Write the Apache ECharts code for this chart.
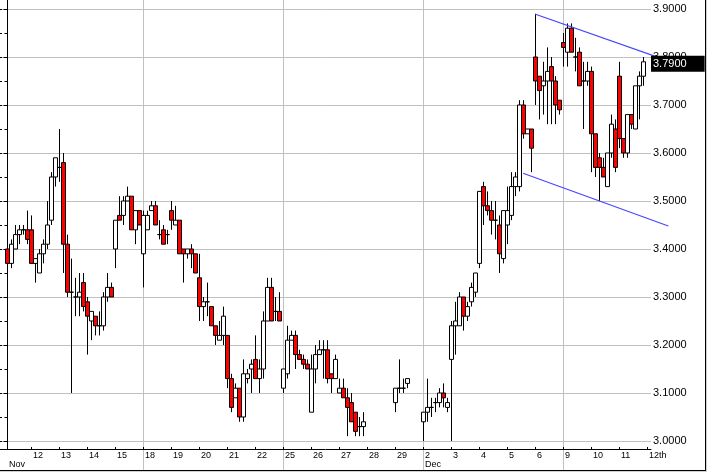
<!DOCTYPE html>
<html><head><meta charset="utf-8">
<script src="https://cdn.jsdelivr.net/npm/echarts@6/dist/echarts.min.js"></script>
<style>
html,body{margin:0;padding:0;background:#d4d0c8;}
#c{width:705px;height:470px;background:#fff;border-right:1px solid #000;border-bottom:1px solid #000;}
</style>
</head><body><div id="c"></div>
<script>
// ---- data ----
const slots = [
  0,1,2,3,4,5,6,7,8,9,10,11,12,13,14,15,16,17,18,19,20,21,22,23,24,25,26,27,28,29,
  30,31,32,33,34,35,36,37,38,39,40,41,42,43,44,45,46,47,48,49,50,51,52,53,54,55,56,57,58,59,
  60,61,62,63,64,65,66,67,68,69,70,71,72,73,74,75,76,77,78,79,80,81,82,83,84,85,86,87,88,89,
  97,98,99,100,
  104,105,106,107,108,109,110,111,112,113,114,115,116,117,118,119,
  120,121,122,123,124,125,126,127,128,129,130,131,132,133,134,135,136,137,138,139,
  140,141,142,143,144,145,146,147,148,149,150,151,152,153,154,155,156,157,158,159
];
const opens = [
  3.40,3.37,3.40,3.43,3.44,3.44,3.44,3.37,3.35,3.39,
  3.41,3.46,3.55,3.57,3.58,3.41,3.31,3.30,3.30,3.33,
  3.29,3.25,3.26,3.24,3.24,3.30,3.32,3.40,3.47,3.47,
  3.50,3.51,3.44,3.48,3.39,3.44,3.48,3.49,3.43,3.44,
  3.43,3.48,3.45,3.46,3.40,3.39,3.40,3.39,3.34,3.28,
  3.29,3.28,3.24,3.21,3.22,3.22,3.13,3.09,3.11,3.05,
  3.13,3.15,3.17,3.13,3.15,3.25,3.32,3.27,3.27,3.11,
  3.14,3.21,3.22,3.18,3.17,3.16,3.06,3.15,3.18,3.19,
  3.19,3.14,3.13,3.10,3.11,3.09,3.08,3.06,3.03,3.03,
  3.08,3.11,3.11,3.12,
  3.04,3.06,3.07,3.08,3.08,3.10,
  3.07,3.17,3.24,3.24,3.30,3.26,3.29,3.31,3.37,3.53,
  3.49,3.48,3.46,3.45,3.38,3.45,3.47,3.53,3.53,3.70,
  3.64,3.65,3.80,3.76,3.74,3.75,3.78,3.75,3.71,3.83,
  3.81,3.86,3.80,3.81,3.75,3.75,3.77,3.64,3.59,3.57,
  3.53,3.60,3.65,3.76,3.63,3.60,3.68,3.65,3.74,3.76
];
const closes = [
  3.37,3.41,3.43,3.44,3.44,3.42,3.37,3.38,3.39,3.41,
  3.45,3.55,3.59,3.57,3.41,3.31,3.31,3.30,3.31,3.28,
  3.26,3.27,3.24,3.24,3.30,3.32,3.30,3.46,3.46,3.50,
  3.51,3.44,3.48,3.45,3.47,3.47,3.49,3.45,3.43,3.41,
  3.43,3.46,3.46,3.39,3.39,3.40,3.39,3.35,3.28,3.29,
  3.29,3.24,3.22,3.22,3.26,3.13,3.07,3.11,3.05,3.14,
  3.14,3.16,3.13,3.15,3.25,3.32,3.25,3.27,3.25,3.15,
  3.21,3.22,3.18,3.17,3.16,3.15,3.15,3.18,3.19,3.19,
  3.13,3.13,3.17,3.11,3.09,3.07,3.04,3.02,3.03,3.04,
  3.11,3.11,3.11,3.13,
  3.06,3.07,3.07,3.08,3.10,3.09,
  3.08,3.24,3.25,3.30,3.26,3.28,3.32,3.35,3.52,3.49,
  3.48,3.46,3.46,3.39,3.48,3.48,3.53,3.55,3.70,3.64,
  3.65,3.61,3.75,3.73,3.75,3.77,3.75,3.70,3.69,3.82,
  3.86,3.81,3.80,3.74,3.75,3.77,3.64,3.57,3.57,3.55,
  3.60,3.66,3.57,3.63,3.60,3.68,3.66,3.74,3.76,3.79
];
const highs = [
  3.42,3.42,3.45,3.45,3.45,3.48,3.47,3.38,3.40,3.42,
  3.50,3.56,3.59,3.65,3.60,3.43,3.38,3.34,3.35,3.35,
  3.30,3.27,3.26,3.27,3.31,3.35,3.33,3.46,3.51,3.51,
  3.53,3.51,3.48,3.48,3.48,3.48,3.50,3.50,3.46,3.45,
  3.44,3.50,3.49,3.46,3.40,3.40,3.41,3.39,3.39,3.30,
  3.33,3.28,3.24,3.25,3.28,3.22,3.14,3.12,3.11,3.17,
  3.15,3.17,3.22,3.17,3.27,3.34,3.34,3.30,3.31,3.15,
  3.24,3.23,3.23,3.19,3.18,3.17,3.18,3.20,3.21,3.21,
  3.21,3.14,3.18,3.13,3.13,3.11,3.10,3.06,3.05,3.06,
  3.11,3.17,3.13,3.13,
  3.06,3.13,3.09,3.09,3.11,3.12,
  3.09,3.25,3.29,3.31,3.30,3.29,3.33,3.35,3.52,3.54,
  3.52,3.50,3.50,3.47,3.48,3.53,3.56,3.56,3.71,3.71,
  3.65,3.65,3.89,3.76,3.79,3.82,3.80,3.76,3.71,3.85,
  3.87,3.87,3.84,3.82,3.79,3.79,3.78,3.64,3.60,3.59,
  3.60,3.68,3.67,3.79,3.63,3.68,3.68,3.74,3.77,3.80
];
const lows = [
  3.34,3.36,3.40,3.41,3.43,3.41,3.37,3.33,3.35,3.37,
  3.40,3.45,3.53,3.54,3.35,3.30,3.10,3.26,3.26,3.27,
  3.18,3.21,3.22,3.22,3.23,3.29,3.30,3.36,3.46,3.45,
  3.50,3.44,3.41,3.45,3.32,3.44,3.48,3.45,3.42,3.41,
  3.41,3.44,3.45,3.39,3.33,3.38,3.36,3.35,3.25,3.25,
  3.26,3.24,3.20,3.21,3.20,3.11,3.06,3.09,3.04,3.04,
  3.12,3.10,3.13,3.10,3.13,3.25,3.25,3.25,3.25,3.10,
  3.13,3.21,3.15,3.17,3.15,3.15,3.06,3.12,3.18,3.13,
  3.12,3.10,3.13,3.10,3.09,3.01,3.04,3.01,3.01,3.01,
  3.06,3.10,3.10,3.11,
  3.00,3.04,3.05,3.06,3.07,3.07,
  3.06,3.00,3.18,3.24,3.23,3.25,3.28,3.30,3.36,3.45,
  3.47,3.43,3.42,3.35,3.37,3.41,3.46,3.51,3.52,3.63,
  3.64,3.56,3.70,3.67,3.68,3.66,3.66,3.66,3.68,3.78,
  3.78,3.81,3.77,3.74,3.65,3.74,3.56,3.55,3.50,3.55,
  3.53,3.59,3.56,3.61,3.59,3.59,3.65,3.65,3.67,3.74
];
// day tick labels (one per trading day, first at slot 6, 7 slots per day)
const dayLabels = ['12','13','14','15','18','19','20','21','22','25','26','27','28','29','2','3','4','5','6','9','10','11','12th'];
const firstDaySlot = 6, slotsPerDay = 7;
const monthLabels = ['Nov','Dec'];
const monthSlots = [0, 104];
const weekSlots = [34, 69, 104, 139];
const yTickValues = [3.0,3.1,3.2,3.3,3.4,3.5,3.6,3.7,3.8,3.9];
const yMinorValues = [3.05,3.15,3.25,3.35,3.45,3.55,3.65,3.75,3.85];
const yAllSmall = [3.0,3.05,3.1,3.15,3.2,3.25,3.3,3.35,3.4,3.45,3.5,3.55,3.6,3.65,3.7,3.75,3.8,3.85,3.9];
const lastPrice = 3.79;
// channel segments: [slotStart, valueStart, slotEnd, valueEnd]
const channelLines = [
  [132, 3.889, 165, 3.7925],
  [128.9, 3.5577, 165.2, 3.4479]
];

// ---- build ----
const candles = slots.map((s, k) => [s, opens[k], closes[k], lows[k], highs[k]]);
const daySlots = dayLabels.map((_, k) => firstDaySlot + k * slotsPerDay);
const labelMap = {};
daySlots.forEach((s, k) => { labelMap[s] = dayLabels[k]; });
monthSlots.forEach((s, k) => { labelMap[s] = (labelMap[s] || '') + '\n' + monthLabels[k]; });
const labelSlots = Object.keys(labelMap).map(Number).sort((a, b) => a - b);

const XMIN = -1.875, PX_PER_SLOT = 4, PLOT_W = 651, FULL_W = 705;
const YMIN = 2.98333, YMAX = 3.91875;
const FONT = 'Liberation Sans, Arial, sans-serif';

const chart = echarts.init(document.getElementById('c'), null, {renderer: 'canvas'});
chart.setOption({
  animation: false,
  backgroundColor: '#fff',
  grid: [
    {left: 0, top: 0, right: FULL_W - PLOT_W, bottom: 21, outerBoundsMode: 'none', containLabel: false},
    {left: 0, top: 449, right: 0, bottom: 0, outerBoundsMode: 'none', containLabel: false}
  ],
  xAxis: [
    {
      type: 'value', gridIndex: 0, position: 'bottom',
      min: XMIN, max: XMIN + PLOT_W / PX_PER_SLOT,
      axisLine: {show: true, lineStyle: {color: '#000', width: 1}},
      axisTick: {show: true, inside: true, length: 2, lineStyle: {color: '#000'}, customValues: daySlots},
      axisLabel: {
        show: true, customValues: labelSlots, hideOverlap: false,
        formatter: v => labelMap[Math.round(v)] || '',
        align: 'left', verticalAlign: 'top', margin: 2, padding: [0, 0, 0, 1.5],
        fontFamily: FONT, fontSize: 9, lineHeight: 9, color: '#000'
      },
      splitLine: {show: false}
    },
    {
      type: 'value', gridIndex: 0, position: 'bottom',
      min: XMIN, max: XMIN + PLOT_W / PX_PER_SLOT,
      axisLine: {show: false}, axisLabel: {show: false},
      axisTick: {show: false, customValues: weekSlots},
      splitLine: {show: true, lineStyle: {color: '#c0c0c0', width: 1}}
    },
    {
      type: 'value', gridIndex: 1, position: 'top',
      min: XMIN, max: XMIN + FULL_W / PX_PER_SLOT,
      axisLine: {show: true, lineStyle: {color: '#000', width: 1}},
      axisLabel: {show: false},
      axisTick: {show: false, customValues: weekSlots},
      splitLine: {show: true, lineStyle: {color: '#c0c0c0', width: 1}}
    }
  ],
  yAxis: [
    {
      type: 'value', gridIndex: 0, position: 'right', min: YMIN, max: YMAX,
      axisLine: {show: true, lineStyle: {color: '#000', width: 1}},
      axisTick: {show: true, inside: true, length: 4, lineStyle: {color: '#000'}, customValues: yTickValues},
      axisLabel: {
        show: true, customValues: yTickValues, hideOverlap: false,
        formatter: v => v.toFixed(4), margin: 2, align: 'left',
        fontFamily: FONT, fontSize: 11, color: '#000'
      },
      splitLine: {show: true, lineStyle: {color: '#c0c0c0', width: 1}}
    },
    {
      type: 'value', gridIndex: 0, position: 'right', min: YMIN, max: YMAX,
      axisLine: {show: false}, axisLabel: {show: false}, splitLine: {show: false},
      axisTick: {show: true, inside: true, length: 3, lineStyle: {color: '#000'}, customValues: yMinorValues}
    },
    {
      type: 'value', gridIndex: 0, position: 'left', min: YMIN, max: YMAX,
      axisLine: {show: false}, axisLabel: {show: false}, splitLine: {show: false},
      axisTick: {show: true, inside: true, length: 2, lineStyle: {color: '#000'}, customValues: yAllSmall}
    },
    {type: 'value', gridIndex: 1, min: 0, max: 1, show: false}
  ],
  series: [
    {
      type: 'candlestick', xAxisIndex: 0, yAxisIndex: 0,
      dimensions: ['slot', 'open', 'close', 'lowest', 'highest'],
      encode: {x: 0, y: [1, 2, 3, 4]},
      data: candles, barWidth: 4, z: 2,
      itemStyle: {color: '#ffffff', color0: '#ff0000', borderColor: '#000', borderColor0: '#000', borderColorDoji: '#000', borderWidth: 1},
      emphasis: {disabled: true},
      markLine: {
        silent: true, symbol: ['none', 'none'], animation: false,
        lineStyle: {color: 'rgba(0,0,0,0)', width: 1, type: 'solid'},
        label: {
          show: true, position: 'end', distance: 0, offset: [0, 2], formatter: lastPrice.toFixed(4),
          backgroundColor: '#000', color: '#fff', fontFamily: FONT, fontSize: 11,
          padding: [3, 18, 2, 2]
        },
        emphasis: {disabled: true},
        data: [{yAxis: lastPrice}]
      }
    },
    {
      type: 'custom', xAxisIndex: 0, yAxisIndex: 0, data: channelLines, clip: false, z: 5, silent: true,
      encode: {x: [0, 2], y: [1, 3]},
      renderItem: (params, api) => {
        const p1 = api.coord([api.value(0), api.value(1)]);
        const p2 = api.coord([api.value(2), api.value(3)]);
        return {
          type: 'line',
          shape: {x1: p1[0], y1: p1[1], x2: p2[0], y2: p2[1]},
          style: {stroke: '#4646ff', lineWidth: 1.2}
        };
      }
    }
  ]
});
</script>
</body></html>
